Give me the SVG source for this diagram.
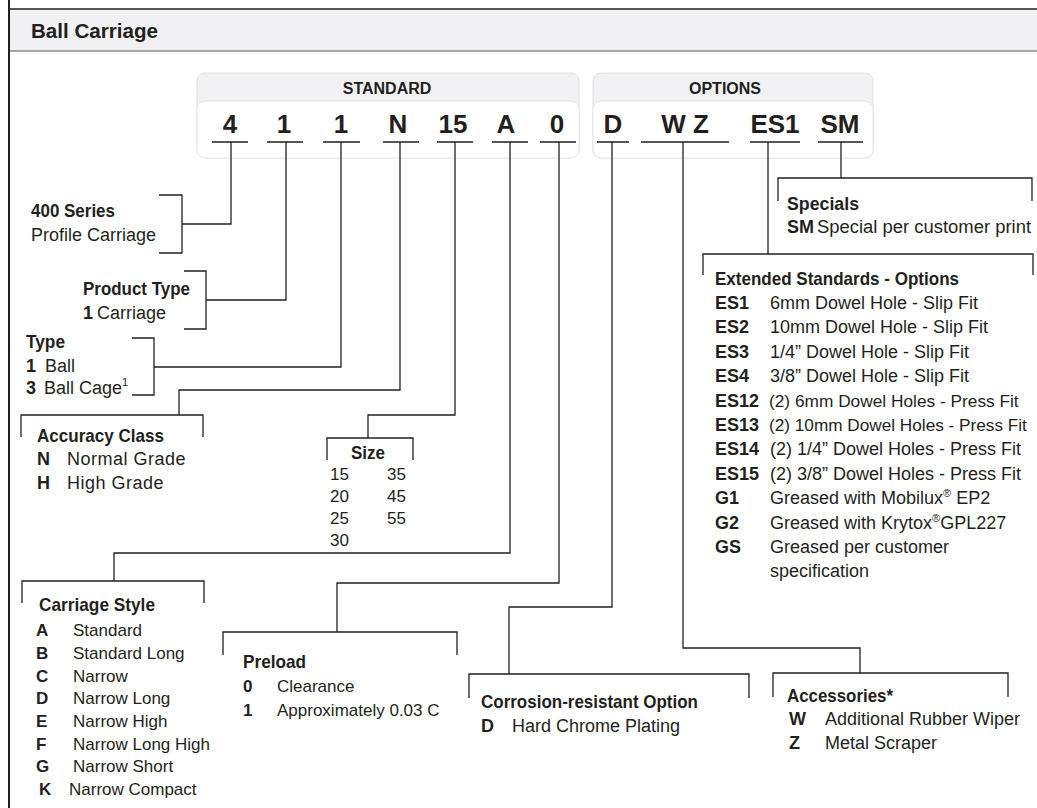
<svg xmlns="http://www.w3.org/2000/svg" width="1037" height="808" viewBox="0 0 1037 808">
<style>
text{font-family:"Liberation Sans",Arial,sans-serif;fill:#231f20}
.h{font-weight:bold;font-size:19px}
.t{font-size:18px}
.s{font-size:17px}
.b{font-weight:bold}
.code{font-weight:bold;font-size:26px;text-anchor:middle}
.cap{font-weight:bold;font-size:16px;text-anchor:middle}
.ln{fill:none;stroke:#231f20;stroke-width:1.3}
.ul{fill:none;stroke:#231f20;stroke-width:1.6}
.sp{letter-spacing:0.5px}
</style>
<rect x="0" y="0" width="1037" height="808" fill="#ffffff"/>
<g id="frame">
<rect x="9" y="9" width="1030" height="42" fill="#f1f1f3"/>
<line x1="9" y1="9" x2="1037" y2="9" stroke="#231f20" stroke-width="1.5"/>
<line x1="9" y1="51" x2="1037" y2="51" stroke="#555" stroke-width="1.2"/>
<line x1="9" y1="0" x2="9" y2="808" stroke="#231f20" stroke-width="2"/>
<text x="31" y="38" class="b" font-size="21" textLength="127" lengthAdjust="spacingAndGlyphs">Ball Carriage</text>
</g>
<g id="code-standard">
<rect x="197" y="73" width="382" height="85" rx="8" fill="#f2f2f4" stroke="#e0e0e2" stroke-width="1"/>
<rect x="197" y="101" width="382" height="57" rx="8" fill="#ffffff" stroke="#e4e4e6" stroke-width="1"/>
<text x="387" y="94" class="cap">STANDARD</text>
<text x="230" y="133" class="code">4</text>
<text x="284" y="133" class="code">1</text>
<text x="341" y="133" class="code">1</text>
<text x="398" y="133" class="code">N</text>
<text x="453" y="133" class="code">15</text>
<text x="506" y="133" class="code">A</text>
<text x="557" y="133" class="code">0</text>
<path class="ul" d="M212 142H248M267 142H303M323 142H360M383 142H419M437 142H473M492 142H528M540 142H576"/>
</g>
<g id="code-options">
<rect x="593" y="73" width="280" height="85" rx="8" fill="#f2f2f4" stroke="#e0e0e2" stroke-width="1"/>
<rect x="593" y="101" width="280" height="57" rx="8" fill="#ffffff" stroke="#e4e4e6" stroke-width="1"/>
<text x="725" y="94" class="cap">OPTIONS</text>
<text x="613" y="133" class="code">D</text>
<text x="685" y="133" class="code">W Z</text>
<text x="775" y="133" class="code">ES1</text>
<text x="840" y="133" class="code">SM</text>
<path class="ul" d="M597 142H629M641 142H729M750 142H800M818 142H863"/>
</g>
<g id="connectors">
<path class="ln" d="M231 142V224H182"/>
<path class="ln" d="M286 142V300H206"/>
<path class="ln" d="M341 142V367H154"/>
<path class="ln" d="M400 142V390H179V415"/>
<path class="ln" d="M455 142V415H368V438"/>
<path class="ln" d="M510 142V553H114V581"/>
<path class="ln" d="M559 142V583H337V632"/>
<path class="ln" d="M612 142V607H509V674"/>
<path class="ln" d="M683 142V648H860V673"/>
<path class="ln" d="M768 142V254"/>
<path class="ln" d="M841 142V178"/>
</g>
<g id="node-series">
<path class="ln" d="M159 195H182V253H159"/>
<text x="31" y="217" class="h" textLength="84" lengthAdjust="spacingAndGlyphs">400 Series</text>
<text x="31" y="241" class="t">Profile Carriage</text>
</g>
<g id="node-product-type">
<path class="ln" d="M184 271H206V329H184"/>
<text x="83" y="295" class="h" textLength="107" lengthAdjust="spacingAndGlyphs">Product Type</text>
<text y="319" class="t"><tspan x="83" class="b">1</tspan><tspan x="97">Carriage</tspan></text>
</g>
<g id="node-type">
<path class="ln" d="M132 338H154V395H132"/>
<text x="26" y="348" class="h" textLength="39" lengthAdjust="spacingAndGlyphs">Type</text>
<text y="372" class="t"><tspan x="26" class="b">1</tspan><tspan x="45">Ball</tspan></text>
<text y="394" class="t"><tspan x="26" class="b">3</tspan><tspan x="44">Ball Cage</tspan><tspan font-size="11" dy="-8">1</tspan></text>
</g>
<g id="node-accuracy">
<path class="ln" d="M21 437V415H203V437"/>
<text x="37" y="442" class="h" textLength="127" lengthAdjust="spacingAndGlyphs">Accuracy Class</text>
<text y="465" class="t"><tspan x="37" class="b">N</tspan><tspan x="67" class="sp">Normal Grade</tspan></text>
<text y="489" class="t"><tspan x="37" class="b">H</tspan><tspan x="67" class="sp">High Grade</tspan></text>
</g>
<g id="node-size">
<path class="ln" d="M327 460V438H413V460"/>
<text x="351" y="459" class="h" textLength="34" lengthAdjust="spacingAndGlyphs">Size</text>
<text class="s"><tspan x="330" y="480">15</tspan><tspan x="387" y="480">35</tspan><tspan x="330" y="502">20</tspan><tspan x="387" y="502">45</tspan><tspan x="330" y="524">25</tspan><tspan x="387" y="524">55</tspan><tspan x="330" y="546">30</tspan></text>
</g>
<g id="node-carriage-style">
<path class="ln" d="M22 603V581H204V603"/>
<text x="39" y="611" class="h" textLength="116" lengthAdjust="spacingAndGlyphs">Carriage Style</text>
<text class="s">
<tspan x="36" y="636" class="b">A</tspan><tspan x="73" y="636">Standard</tspan>
<tspan x="36" y="659" class="b">B</tspan><tspan x="73" y="659">Standard Long</tspan>
<tspan x="36" y="682" class="b">C</tspan><tspan x="73" y="682">Narrow</tspan>
<tspan x="36" y="704" class="b">D</tspan><tspan x="73" y="704">Narrow Long</tspan>
<tspan x="36" y="727" class="b">E</tspan><tspan x="73" y="727">Narrow High</tspan>
<tspan x="36" y="750" class="b">F</tspan><tspan x="73" y="750">Narrow Long High</tspan>
<tspan x="36" y="772" class="b">G</tspan><tspan x="73" y="772">Narrow Short</tspan>
<tspan x="39" y="795" class="b">K</tspan><tspan x="69" y="795">Narrow Compact</tspan>
</text>
</g>
<g id="node-preload">
<path class="ln" d="M223 655V632H457V655"/>
<text x="243" y="668" class="h" textLength="63" lengthAdjust="spacingAndGlyphs">Preload</text>
<text class="s"><tspan x="243" y="692" class="b">0</tspan><tspan x="277" y="692">Clearance</tspan><tspan x="243" y="716" class="b">1</tspan><tspan x="277" y="716">Approximately 0.03 C</tspan></text>
</g>
<g id="node-corrosion">
<path class="ln" d="M469 698V674H749V698"/>
<text x="481" y="708" class="h" textLength="217" lengthAdjust="spacingAndGlyphs">Corrosion-resistant Option</text>
<text y="732" class="t"><tspan x="481" class="b">D</tspan><tspan x="512">Hard Chrome Plating</tspan></text>
</g>
<g id="node-accessories">
<path class="ln" d="M773 697V673H1008V697"/>
<text x="787" y="702" class="h" textLength="106" lengthAdjust="spacingAndGlyphs">Accessories*</text>
<text class="t"><tspan x="789" y="725" class="b">W</tspan><tspan x="825" y="725">Additional Rubber Wiper</tspan><tspan x="789" y="749" class="b">Z</tspan><tspan x="825" y="749">Metal Scraper</tspan></text>
</g>
<g id="node-extended">
<path class="ln" d="M703 275V254H1033V275"/>
<text x="715" y="285" class="h" textLength="244" lengthAdjust="spacingAndGlyphs">Extended Standards - Options</text>
<text class="t">
<tspan x="715" y="309" class="b">ES1</tspan><tspan x="770" y="309">6mm Dowel Hole - Slip  Fit</tspan>
<tspan x="715" y="333" class="b">ES2</tspan><tspan x="770" y="333">10mm Dowel Hole - Slip  Fit</tspan>
<tspan x="715" y="358" class="b">ES3</tspan><tspan x="770" y="358">1/4” Dowel Hole - Slip Fit</tspan>
<tspan x="715" y="382" class="b">ES4</tspan><tspan x="770" y="382">3/8” Dowel Hole - Slip Fit</tspan>
<tspan x="715" y="407" class="b">ES12</tspan><tspan x="769" y="407" font-size="17.3">(2) 6mm Dowel Holes - Press Fit</tspan>
<tspan x="715" y="431" class="b">ES13</tspan><tspan x="769" y="431" font-size="17.2">(2) 10mm Dowel Holes - Press Fit</tspan>
<tspan x="715" y="455" class="b">ES14</tspan><tspan x="770" y="455">(2) 1/4” Dowel Holes - Press Fit</tspan>
<tspan x="715" y="480" class="b">ES15</tspan><tspan x="770" y="480">(2) 3/8” Dowel Holes - Press Fit</tspan>
<tspan x="715" y="504" class="b">G1</tspan><tspan x="770" y="504">Greased with Mobilux</tspan><tspan font-size="11" dy="-7">®</tspan><tspan dy="7"> EP2</tspan>
<tspan x="715" y="529" class="b">G2</tspan><tspan x="770" y="529">Greased with Krytox</tspan><tspan font-size="11" dy="-7">®</tspan><tspan dy="7">GPL227</tspan>
<tspan x="715" y="553" class="b">GS</tspan><tspan x="770" y="553">Greased per customer</tspan>
<tspan x="770" y="577">specification</tspan>
</text>
</g>
<g id="node-specials">
<path class="ln" d="M778 201V178H1032V201"/>
<text x="787" y="210" class="h" textLength="72" lengthAdjust="spacingAndGlyphs">Specials</text>
<text y="233" class="t"><tspan x="787" class="b">SM</tspan><tspan x="817" textLength="214" lengthAdjust="spacingAndGlyphs">Special per customer print</tspan></text>
</g>
</svg>
